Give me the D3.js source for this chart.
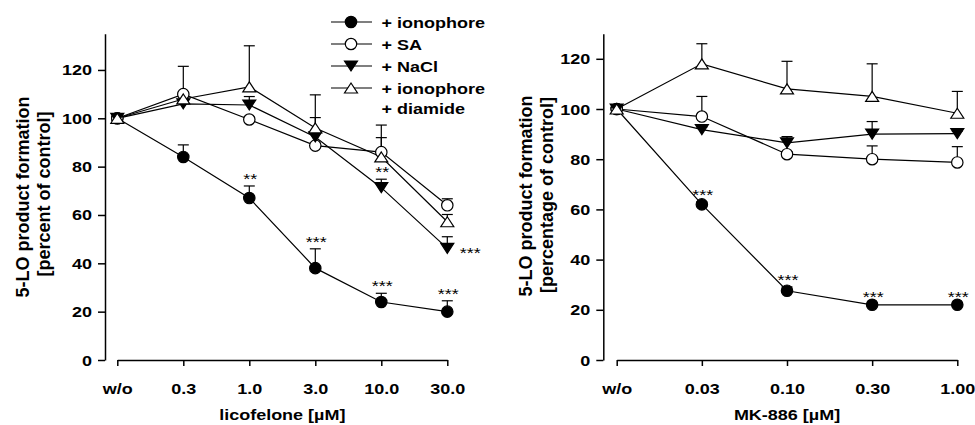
<!DOCTYPE html>
<html>
<head>
<meta charset="utf-8">
<script src="https://cdnjs.cloudflare.com/ajax/libs/d3/7.8.5/d3.min.js"></script>
<style>
  body { margin: 0; background: #fff; }
  text { font-family: "Liberation Sans", Arial, sans-serif; }
</style>
</head>
<body>
<svg id="chart" width="975" height="425"></svg>
<script>
// ---- data ----
const licoCats = ["w/o", "0.3", "1.0", "3.0", "10.0", "30.0"];
const licoIono = [100, 84, 67, 38, 24, 20];
const licoIonoErr = [0, 5, 5, 8, 3.6, 4.5];
const licoSA = [100, 110, 99.5, 88.7, 86, 64];
const licoSAErr = [0, 11.5, 1, 1, 6, 2.7];
const licoNaCl = [100, 106, 105.5, 92.3, 71.3, 46.2];
const licoNaClErr = [0, 1, 3.5, 8, 3.5, 4.8];
const licoDiam = [100, 108, 113, 96, 84, 57.2];
const licoDiamErr = [0, 1, 17, 13.7, 13.2, 3];
// significance marks: [series, index, label]
const licoSig = [["iono", 2, "**"], ["iono", 3, "***"], ["iono", 4, "***"], ["iono", 5, "***"],
                 ["nacl", 4, "**"], ["nacl", 5, "***", "right"]];

const mkCats = ["w/o", "0.03", "0.10", "0.30", "1.00"];
const mkIono = [100, 62, 27.6, 22, 22];
const mkIonoErr = [0, 1, 1.5, 0.5, 0.5];
const mkSA = [100, 97, 82, 80, 78.7];
const mkSAErr = [0, 8, 1, 5.3, 6.3];
const mkNaCl = [100, 91.8, 86.5, 90, 90.2];
const mkNaClErr = [0, 1, 2.5, 5, 1];
const mkDiam = [100, 118, 108, 105, 98.3];
const mkDiamErr = [0, 8, 11, 13, 8.7];
const mkSig = [["iono", 1, "***"], ["iono", 2, "***"], ["iono", 3, "***"], ["iono", 4, "***"]];

const yTicks = [0, 20, 40, 60, 80, 100, 120];
const legendLabels = ["+ ionophore", "+ SA", "+ NaCl", "+ ionophore"];
const legendExtra = "+ diamide";

const FONT = "Liberation Sans, Arial, sans-serif";
const SQ = 0.78; // text looks vertically squeezed in the original

const svg = d3.select("#chart");
svg.append("rect").attr("width", 975).attr("height", 425).attr("fill", "#fff");

// marker shapes
function markerPath(type) {
  if (type === "up") return "M0,-5L6.5,5L-6.5,5Z";
  if (type === "down") return "M0,5L6.5,-5L-6.5,-5Z";
  return null;
}
function drawMarker(g, type, x, y) {
  if (type === "filled" || type === "open") {
    g.append("circle")
      .attr("cx", x).attr("cy", y).attr("r", 5.7)
      .attr("fill", type === "filled" ? "#000" : "#fff")
      .attr("stroke", "#000").attr("stroke-width", 1.2);
  } else {
    g.append("path")
      .attr("d", markerPath(type))
      .attr("transform", "translate(" + x + "," + y + ")")
      .attr("fill", type === "down" ? "#000" : "#fff")
      .attr("stroke", "#000").attr("stroke-width", 1.2);
  }
}

function squishText(g, str, x, y, size, weight, anchor) {
  return g.append("text")
    .attr("transform", "translate(" + x + "," + y + ") scale(1," + SQ + ")")
    .attr("text-anchor", anchor || "middle")
    .style("font-size", size + "px")
    .style("font-weight", weight || "bold")
    .text(str);
}

function drawPanel(opts) {
  const g = svg.append("g");
  const x = d3.scalePoint().domain(opts.cats).range(opts.xRange);
  const y = d3.scaleLinear().domain([0, opts.yMax]).range([360, 33.7]);

  // y axis
  const yAxis = g.append("g")
    .attr("transform", "translate(" + opts.yAxisX + ",0)")
    .call(d3.axisLeft(y).tickValues(yTicks).tickSize(7).tickSizeOuter(0));
  yAxis.select(".domain").attr("stroke-width", 1.5);
  yAxis.selectAll(".tick line").attr("stroke-width", 1.5);
  yAxis.selectAll(".tick text")
    .attr("x", null).attr("dy", null)
    .attr("transform", "translate(" + opts.yLabelOffset + ",5) scale(1," + SQ + ")")
    .style("font-size", "18px").style("font-weight", "bold").style("font-family", FONT);

  // x axis
  const xAxis = g.append("g")
    .attr("transform", "translate(0,360)")
    .call(d3.axisBottom(x).tickSize(6).tickSizeOuter(0));
  xAxis.select(".domain").attr("stroke-width", 1.5);
  xAxis.selectAll(".tick line").attr("stroke-width", 1.5);
  xAxis.selectAll(".tick text")
    .attr("y", null).attr("dy", null)
    .attr("transform", "translate(0,34) scale(1," + SQ + ")")
    .style("font-size", "18px").style("font-weight", "bold").style("font-family", FONT);

  // axis titles
  squishText(g, opts.xTitle, (opts.xRange[0] + opts.xRange[1]) / 2, 420, 18);
  opts.yTitle.forEach(function(t, i) {
    g.append("text")
      .attr("transform", "translate(" + opts.yTitleX[i] + "," + opts.yTitleY[i] + ") rotate(-90)")
      .attr("text-anchor", "middle")
      .style("font-size", "18px").style("font-weight", "bold")
      .text(t);
  });

  const line = d3.line().x((d, i) => x(opts.cats[i])).y(d => y(d));
  const lines = g.append("g");
  const bars = g.append("g");
  const marks = g.append("g");

  opts.series.forEach(function(s) {
    lines.append("path").datum(s.values)
      .attr("d", line).attr("fill", "none")
      .attr("stroke", "#000").attr("stroke-width", 1.2);
    s.values.forEach(function(v, i) {
      const cx = x(opts.cats[i]);
      if (s.err[i] > 0) {
        const top = y(v + s.err[i]);
        bars.append("line").attr("x1", cx).attr("x2", cx)
          .attr("y1", y(v)).attr("y2", top).attr("stroke", "#000").attr("stroke-width", 1.2);
        bars.append("line").attr("x1", cx - 5.5).attr("x2", cx + 5.5)
          .attr("y1", top).attr("y2", top).attr("stroke", "#000").attr("stroke-width", 1.2);
      }
      drawMarker(marks, s.marker, cx, y(v));
    });
  });

  // significance stars
  const byKey = {};
  opts.series.forEach(s => byKey[s.key] = s);
  opts.sig.forEach(function(m) {
    const s = byKey[m[0]];
    const i = m[1];
    const cx = x(opts.cats[i]);
    if (m[3] === "right") {
      squishText(g, m[2], cx + 23, y(s.values[i]) + 10, 18, "normal");
    } else {
      const top = y(s.values[i] + s.err[i]);
      squishText(g, m[2], cx + 1, top - 2, 18, "normal");
    }
  });
  return g;
}

const seriesDefs = function(iono, ionoE, sa, saE, nacl, naclE, diam, diamE) {
  return [
    { key: "iono", values: iono, err: ionoE, marker: "filled" },
    { key: "sa", values: sa, err: saE, marker: "open" },
    { key: "nacl", values: nacl, err: naclE, marker: "down" },
    { key: "diam", values: diam, err: diamE, marker: "up" }
  ];
};

drawPanel({
  cats: licoCats, xRange: [117.3, 447.3], yMax: 135, yAxisX: 105, yLabelOffset: -13,
  xTitle: "licofelone [µM]",
  yTitle: ["5-LO product formation", "[percent of control]"],
  yTitleX: [28.5, 50], yTitleY: [197, 194],
  series: seriesDefs(licoIono, licoIonoErr, licoSA, licoSAErr, licoNaCl, licoNaClErr, licoDiam, licoDiamErr),
  sig: licoSig
});

drawPanel({
  cats: mkCats, xRange: [616.7, 957.3], yMax: 130, yAxisX: 603.3, yLabelOffset: -13,
  xTitle: "MK-886 [µM]",
  yTitle: ["5-LO product formation", "[percentage of control]"],
  yTitleX: [532, 553], yTitleY: [196, 195],
  series: seriesDefs(mkIono, mkIonoErr, mkSA, mkSAErr, mkNaCl, mkNaClErr, mkDiam, mkDiamErr),
  sig: mkSig
});

// legend
const legend = svg.append("g");
const legendMarkers = ["filled", "open", "down", "up"];
const legendRows = [22, 44, 66, 88];
legendLabels.forEach(function(lab, i) {
  const ly = legendRows[i];
  legend.append("line").attr("x1", 331).attr("x2", 372).attr("y1", ly).attr("y2", ly)
    .attr("stroke", "#000").attr("stroke-width", 1.2);
  drawMarker(legend, legendMarkers[i], 351, ly);
  squishText(legend, lab, 381.5, ly + 5.5, 18, "bold", "start");
});
squishText(legend, legendExtra, 381.5, 108 + 5.5, 18, "bold", "start");
</script>
</body>
</html>
